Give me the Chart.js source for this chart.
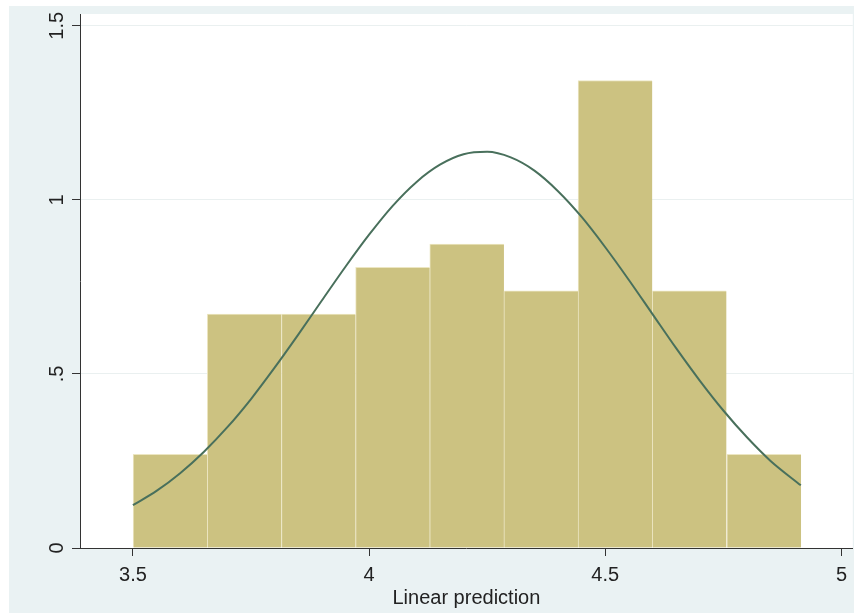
<!DOCTYPE html>
<html>
<head>
<meta charset="utf-8">
<script src="https://cdn.jsdelivr.net/npm/chart.js@4"></script>
<style>
  body { margin: 0; background: #ffffff; }
  #wrap { width: 854px; height: 613px; }
</style>
</head>
<body>
<div id="wrap"><canvas id="histChart"></canvas></div>
<script>
// Histogram bins (centres) and densities
const binCenters = [3.579, 3.736, 3.893, 4.050, 4.207, 4.364, 4.521, 4.678, 4.836];
const densities = [0.269, 0.672, 0.672, 0.806, 0.873, 0.739, 1.343, 0.739, 0.269];

// Normal density curve
const curveX = [3.50, 3.55, 3.60, 3.65, 3.70, 3.75, 3.80, 3.85, 3.90, 3.95, 4.00, 4.05, 4.10, 4.15,
                4.20, 4.25, 4.30, 4.35, 4.40, 4.45, 4.50, 4.55, 4.60, 4.65, 4.70, 4.75, 4.80, 4.85, 4.914];
const curveY = [0.123, 0.164, 0.215, 0.276, 0.347, 0.428, 0.518, 0.613, 0.711, 0.808, 0.900, 0.983, 1.051, 1.101,
                1.131, 1.138, 1.122, 1.084, 1.025, 0.951, 0.864, 0.770, 0.672, 0.574, 0.481, 0.395, 0.318, 0.250, 0.180];

// Axis ticks
const xTicks = [3.5, 4, 4.5, 5];
const xTickLabels = ['3.5', '4', '4.5', '5'];
const yTicks = [0, 0.5, 1, 1.5];
const yTickLabels = ['0', '.5', '1', '1.5'];

// Fond gris-bleu du graphique, zone de tracé blanche
const backgroundPlugin = {
    id: 'background',
    beforeDraw(chart) {
        const ctx = chart.ctx;
        const area = chart.chartArea;
        ctx.save();
        ctx.fillStyle = '#ffffff';
        ctx.fillRect(0, 0, chart.width, chart.height);
        ctx.fillStyle = '#eaf2f3';
        ctx.fillRect(9, 6, chart.width - 9, chart.height - 6);
        ctx.fillStyle = '#ffffff';
        ctx.fillRect(area.left, area.top, area.right - area.left, area.bottom - area.top);
        ctx.restore();
    }
};

const tickFont = { family: 'Liberation Sans, Arial, sans-serif', size: 20 };

const histChart = new Chart(document.getElementById('histChart'), {
    type: 'bar',
    data: {
        datasets: [{
            type: 'line',
            data: curveX.map((x, i) => ({ x: x, y: curveY[i] })),
            borderColor: '#49705c',
            borderWidth: 2,
            pointRadius: 0,
            cubicInterpolationMode: 'monotone',
            order: 0
        }, {
            type: 'bar',
            data: binCenters.map((x, i) => ({ x: x, y: densities[i] })),
            backgroundColor: '#ccc281',
            borderColor: '#ece6c2',
            borderWidth: { top: 1, left: 1, right: 0, bottom: 0 },
            borderSkipped: false,
            barPercentage: 1,
            categoryPercentage: 1,
            order: 1
        }]
    },
    options: {
        responsive: true,
        maintainAspectRatio: false,
        animation: false,
        layout: { padding: { top: 14, left: 0, right: 0, bottom: 0 } },
        plugins: {
            legend: { display: false },
            tooltip: { enabled: false }
        },
        scales: {
            x: {
                type: 'linear',
                min: 3.388,
                max: 5.024,
                offset: false,
                afterBuildTicks: (scale) => { scale.ticks = xTicks.map(v => ({ value: v })); },
                afterFit: (scale) => { scale.height = 65; },
                grid: {
                    offset: false,
                    drawOnChartArea: false,
                    drawTicks: true,
                    tickLength: 8,
                    tickColor: '#333333'
                },
                border: { display: true, color: '#333333', width: 1 },
                ticks: {
                    color: '#222222',
                    font: tickFont,
                    padding: 7,
                    maxRotation: 0,
                    callback: (value) => xTickLabels[xTicks.indexOf(value)]
                },
                title: {
                    display: true,
                    text: 'Linear prediction',
                    color: '#222222',
                    font: tickFont,
                    padding: { top: 0, bottom: 3 }
                }
            },
            y: {
                min: 0,
                max: 1.534,
                afterBuildTicks: (scale) => { scale.ticks = yTicks.map(v => ({ value: v })); },
                afterFit: (scale) => { scale.width = 80; },
                grid: {
                    color: '#eaf0f0',
                    drawTicks: true,
                    tickLength: 8,
                    tickColor: '#333333'
                },
                border: { display: true, color: '#333333', width: 1 },
                ticks: {
                    color: '#222222',
                    font: tickFont,
                    padding: 1,
                    minRotation: 90,
                    maxRotation: 90,
                    crossAlign: 'center',
                    callback: (value) => yTickLabels[yTicks.indexOf(value)]
                }
            }
        }
    },
    plugins: [backgroundPlugin]
});
</script>
</body>
</html>
